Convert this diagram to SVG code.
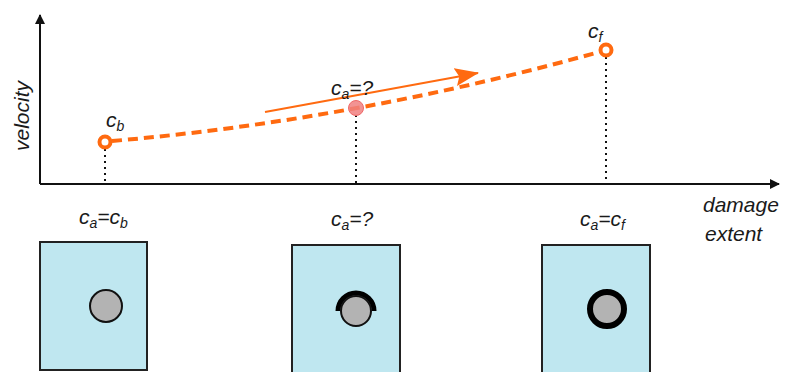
<svg xmlns="http://www.w3.org/2000/svg" width="790" height="372" viewBox="0 0 790 372">
<defs>
<style>
text{font-family:"Liberation Sans",Arial,sans-serif;fill:#1a1a1a;font-style:italic}
.lbl{font-size:21px}
.sub{font-size:14px}
.axis{stroke:#111;stroke-width:2;fill:none}
.dot{stroke:#111;stroke-width:2;stroke-dasharray:2 4;fill:none}
.box{fill:#bfe7f0;stroke:#222;stroke-width:2}
.hole{fill:#b3b3b3;stroke:#111;stroke-width:2}
</style>
<marker id="ah" viewBox="0 0 10 10" refX="9" refY="5" markerWidth="10" markerHeight="11" markerUnits="userSpaceOnUse" orient="auto"><path d="M0,0 L10,5 L0,10 Z" fill="#111"/></marker>
<marker id="oh" viewBox="0 0 24 18" refX="23" refY="9" markerWidth="24" markerHeight="18" markerUnits="userSpaceOnUse" orient="auto"><path d="M0,0 L24,9 L0,18 L4,9 Z" fill="#ff6a10"/></marker>
</defs>
<g id="axes">
<path class="axis" d="M40,184 L40,15" marker-end="url(#ah)"/>
<path class="axis" d="M40,184 L779,184" marker-end="url(#ah)"/>
<text class="lbl" transform="translate(29,116) rotate(-90)" text-anchor="middle">velocity</text>
<text class="lbl" x="703" y="212">damage</text>
<text class="lbl" x="705" y="241">extent</text>
</g>
<g id="connectors">
<path class="dot" d="M105,149 V184"/>
<path class="dot" d="M356,115 V184"/>
<path class="dot" d="M606,57 V184"/>
<path d="M112,141 Q356,120 599,52" fill="none" stroke="#ff6a10" stroke-width="4" stroke-dasharray="10 6"/>
<path d="M265,112 L478,73" fill="none" stroke="#ff6a10" stroke-width="2" marker-end="url(#oh)"/>
</g>
<g id="cb">
<circle cx="105" cy="142" r="5.5" fill="#fff" stroke="#ff6a10" stroke-width="4"/>
<text class="lbl" x="106" y="127">c<tspan class="sub" dy="4">b</tspan></text>
</g>
<g id="cmid">
<circle cx="356" cy="108" r="7.5" fill="#f08080" fill-opacity="0.85" stroke="#f06868" stroke-width="1"/>
<text class="lbl" x="331" y="95">c<tspan class="sub" dy="4">a</tspan><tspan dy="-4">=?</tspan></text>
</g>
<g id="cf">
<circle cx="606" cy="50" r="5.5" fill="#fff" stroke="#ff6a10" stroke-width="4"/>
<text class="lbl" x="588" y="38">c<tspan class="sub" dy="4">f</tspan></text>
</g>
<g id="panel1">
<text class="lbl" x="79" y="224">c<tspan class="sub" dy="4">a</tspan><tspan dy="-4">=c</tspan><tspan class="sub" dy="4">b</tspan></text>
<rect class="box" x="40" y="242" width="107" height="128"/>
<circle class="hole" cx="106" cy="306" r="16"/>
</g>
<g id="panel2">
<text class="lbl" x="331" y="226">c<tspan class="sub" dy="4">a</tspan><tspan dy="-4">=?</tspan></text>
<rect class="box" x="292" y="245" width="108" height="130"/>
<path d="M338,311 A18,18 0 0 1 374,311" fill="none" stroke="#000" stroke-width="5"/>
<circle class="hole" cx="356" cy="311" r="15"/>
</g>
<g id="panel3">
<text class="lbl" x="580" y="226">c<tspan class="sub" dy="4">a</tspan><tspan dy="-4">=c</tspan><tspan class="sub" dy="4">f</tspan></text>
<rect class="box" x="542" y="245" width="108" height="130"/>
<circle cx="607" cy="309" r="17" fill="#b3b3b3" stroke="#000" stroke-width="6"/>
</g>
</svg>
